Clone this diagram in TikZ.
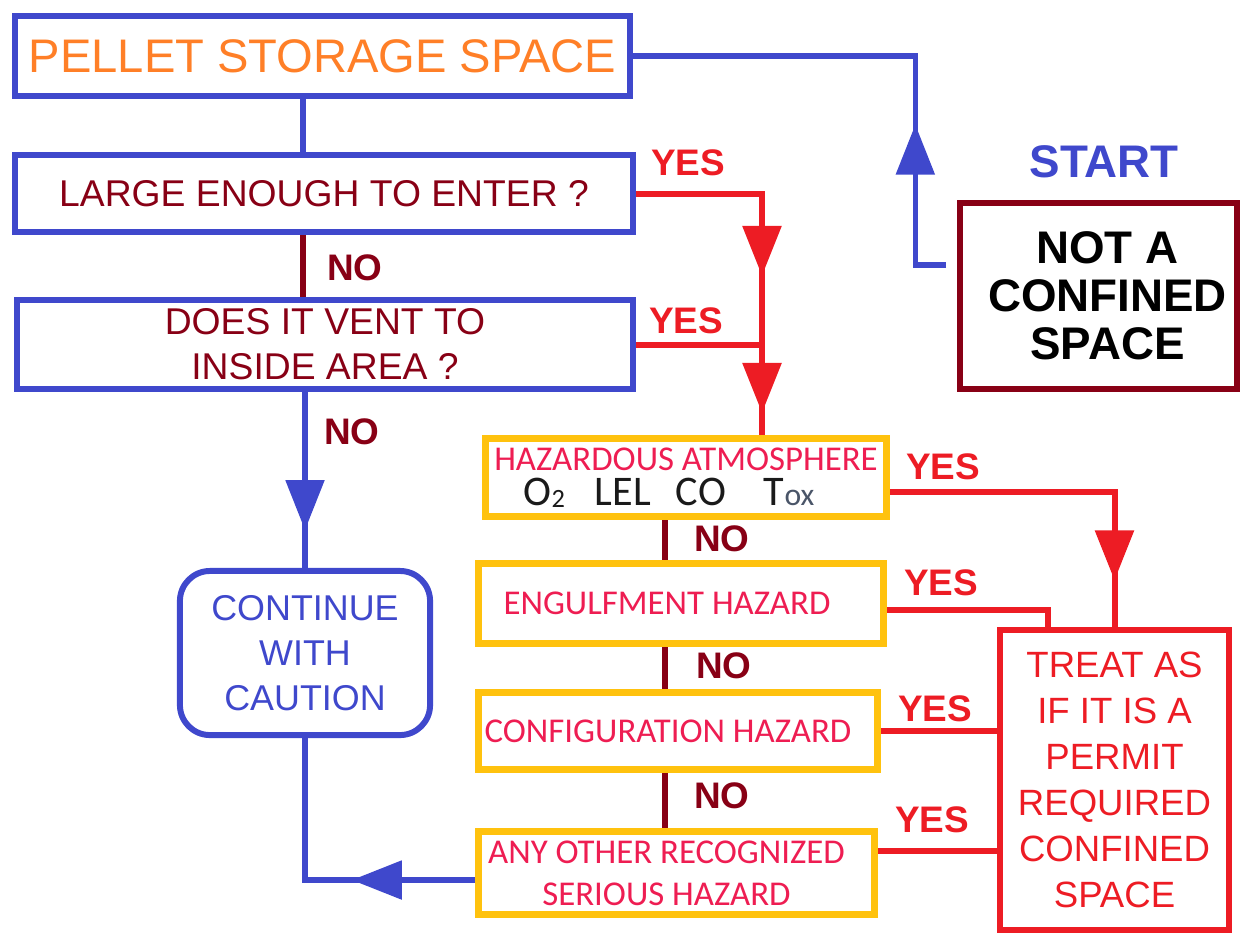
\documentclass[tikz,border=0pt]{standalone}
\usepackage{fontspec}
\setmainfont{Liberation Sans}
\newfontfamily\calib{Carlito}
\usepackage{xcolor}
\definecolor{cBlue}{HTML}{3F48CC}
\definecolor{cOrange}{HTML}{FF7F27}
\definecolor{cMaroon}{HTML}{880015}
\definecolor{cRed}{HTML}{ED1C24}
\definecolor{cGold}{HTML}{FFC20E}
\definecolor{cPink}{HTML}{EE1D52}
\definecolor{cInk}{HTML}{1A1A1A}
\definecolor{cSlate}{HTML}{4A5568}
\usetikzlibrary{arrows.meta,calc,decorations.markings}
\tikzset{
  node-box/.style={draw=cBlue,line width=1.7pt,align=center,inner sep=0pt},
  node-hazard/.style={draw=cGold,line width=2pt,align=center,inner sep=0pt,
    text=cPink,font=\calib\fontsize{9.9}{10}\selectfont},
  node-stop/.style={draw=cMaroon,line width=1.5pt,align=center,inner sep=0pt,
    font=\bfseries\fontsize{13}{13.7}\selectfont},
  node-treat/.style={draw=cRed,line width=1.7pt,align=center,inner sep=0pt,
    text=cRed,font=\fontsize{10.4}{13.1}\selectfont},
  lbl-yes/.style={text=cRed,font=\bfseries\fontsize{10.5}{12}\selectfont,inner sep=0pt},
  lbl-no/.style={text=cMaroon,font=\bfseries\fontsize{10.5}{12}\selectfont,inner sep=0pt},
  arrow-blue/.style={draw=cBlue,line width=1.5pt},
  arrow-yes/.style={draw=cRed,line width=1.7pt},
  arrow-no/.style={draw=cMaroon,line width=1.7pt},
  % triangle head placed part way along a connector
  tip-at/.style={postaction={decorate,decoration={markings,
    mark=at position #1 with {\arrow{Triangle[length=5mm,width=3.8mm]}}}}},
}

\begin{document}
\begin{tikzpicture}[x=0.01cm,y=-0.01cm]
  \useasboundingbox (0,0) rectangle (1242,935);
  \coordinate (spine) at (303,0);
  \coordinate (redx)  at (762,0);
  \coordinate (nox)   at (665,0);
  \coordinate (startin) at (946,265);

  % left column
  \node[node-box,minimum width=6.15cm,minimum height=0.80cm,text=cOrange,
    font=\fontsize{13.4}{14}\selectfont] (pellet) at (322.5,56)
    {\raisebox{-0.05cm}{PELLET STORAGE SPACE}};
  \node[node-box,minimum width=6.18cm,minimum height=0.77cm,text=cMaroon,
    font=\fontsize{10.6}{12.8}\selectfont] (large) at (324,193.5) {LARGE ENOUGH TO ENTER ?};
  \node[node-box,minimum width=6.16cm,minimum height=0.89cm,text=cMaroon,
    font=\fontsize{10.6}{12.8}\selectfont] (vent) at (325,344.5) {DOES IT VENT TO\\INSIDE AREA ?};
  \node[node-box,rounded corners=0.3cm,minimum width=2.50cm,minimum height=1.64cm,
    text=cBlue,font=\fontsize{10.2}{12.8}\selectfont] (cont) at (305,653) {CONTINUE\\WITH\\CAUTION};

  % right side
  \node[text=cBlue,font=\bfseries\fontsize{13}{14}\selectfont] (start) at (1104,162) {START};
  \node[node-stop,minimum width=2.77cm,minimum height=1.86cm] (ncs) at (1098.5,296)
    {\hspace*{0.18cm}NOT A\\\hspace*{0.18cm}CONFINED\\\hspace*{0.18cm}SPACE};
  \node[node-treat,minimum width=2.29cm,minimum height=3.00cm] (treat) at (1114.5,780)
    {TREAT AS\\IF IT IS A\\PERMIT\\REQUIRED\\CONFINED\\SPACE};

  % hazard checks
  \node[node-hazard,minimum width=4.01cm,minimum height=0.78cm] (h1) at (686,477.5)
    {HAZARDOUS ATMOSPHERE\\{\color{cInk}\fontsize{12}{10}\selectfont O\raisebox{-0.02cm}{\fontsize{7.5}{8}\selectfont 2}\hspace{0.3cm}LEL\hspace{0.25cm}CO\hspace{0.38cm}T{\color{cSlate}\fontsize{9}{10}\selectfont ox}}\hspace*{0.34cm}};
  \node[node-hazard,minimum width=4.05cm,minimum height=0.80cm] (h2) at (681,603.5)
    {ENGULFMENT HAZARD\hspace*{0.28cm}};
  \node[node-hazard,minimum width=3.99cm,minimum height=0.77cm] (h3) at (678,731)
    {CONFIGURATION HAZARD\hspace*{0.2cm}};
  \node[node-hazard,minimum width=3.96cm,minimum height=0.83cm,
    font=\calib\fontsize{9.9}{12}\selectfont] (h4) at (676.5,873)
    {ANY OTHER RECOGNIZED\hspace*{0.2cm}\\SERIOUS HAZARD\hspace*{0.2cm}};
  \coordinate (h4y) at ([yshift=0.22cm]h4.east);

  % blue flow
  \draw[arrow-blue] (pellet.south -| spine) -- (large.north -| spine);
  \draw[arrow-blue,tip-at=1.38cm] (vent.south -| cont.north) -- (cont.north);
  \draw[arrow-blue,tip-at=1.23cm] ([yshift=-0.07cm]h4.west) -| (cont.south);
  \draw[arrow-blue,tip-at=1.71cm] (startin) -| ([xshift=2.82cm]pellet.east) -- (pellet.east);

  % no branches
  \draw[arrow-no] (large.south -| spine) -- (vent.north -| spine);
  \draw[arrow-no] (h1.south -| nox) -- (h2.north -| nox);
  \draw[arrow-no] (h2.south -| nox) -- (h3.north -| nox);
  \draw[arrow-no] (h3.south -| nox) -- (h4.north -| nox);

  % yes branches
  \draw[arrow-yes,tip-at=2.08cm,tip-at=3.45cm] (large.east) -| (h1.north -| redx);
  \draw[arrow-yes] (vent.east) -- (vent.east -| redx);
  \draw[arrow-yes,tip-at=3.13cm] ([yshift=-0.14cm]h1.east) -| (treat.north);
  \draw[arrow-yes] ([yshift=-0.06cm]h2.east) -| ([xshift=-0.665cm]treat.north);
  \draw[arrow-yes] (h3.east) -- (h3.east -| treat.west);
  \draw[arrow-yes] (h4y) -- (h4y -| treat.west);

  % labels
  \node[lbl-yes] (yes-large) at (688,163) {YES};
  \node[lbl-yes] (yes-vent)  at (686,321) {YES};
  \node[lbl-yes] (yes-h1)    at (943,467) {YES};
  \node[lbl-yes] (yes-h2)    at (941,583) {YES};
  \node[lbl-yes] (yes-h3)    at (935,709) {YES};
  \node[lbl-yes] (yes-h4)    at (932,820) {YES};
  \node[lbl-no] (no-large) at (355,268) {NO};
  \node[lbl-no] (no-vent)  at (352,432) {NO};
  \node[lbl-no] (no-h1)    at (722,539) {NO};
  \node[lbl-no] (no-h2)    at (724,666) {NO};
  \node[lbl-no] (no-h3)    at (722,796) {NO};
\end{tikzpicture}
\end{document}
